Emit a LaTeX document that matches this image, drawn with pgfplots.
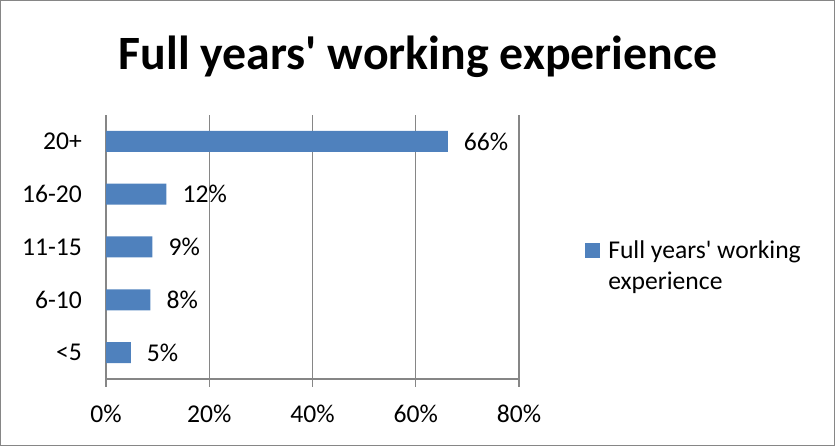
\documentclass[border=0pt]{standalone}
\usepackage{pgfplots}
\pgfplotsset{compat=1.18}
\usepackage{fontspec}
\setmainfont{Carlito}[Ligatures=TeXOff]
\definecolor{barblue}{HTML}{4F81BD}
\definecolor{axgray}{HTML}{868686}
\newcommand{\lblfont}{\fontsize{25.7}{31.4}\selectfont}
\begin{document}
\begin{tikzpicture}[x=1bp,y=1bp]
\path[use as bounding box] (0,0) rectangle (835,446);
\draw[axgray, line width=1.2bp] (0.6,0.6) rectangle (834.4,445.4);
\node[anchor=base, font=\fontsize{48}{58}\selectfont\bfseries, inner sep=0pt] at (418,376) {Full years' working experience};
\begin{axis}[
  at={(106bp,67bp)}, anchor=south west,
  scale only axis, width=413bp, height=264bp,
  xbar, bar width=21bp,
  xmin=0, xmax=80, ymin=-0.5, ymax=4.5,
  axis lines=left,
  axis line style={-, draw=axgray, line width=1.2bp},
  xtick={0,20,40,60,80},
  xticklabels={0\%,20\%,40\%,60\%,80\%},
  xmajorgrids,
  major grid style={draw=axgray, line width=1.2bp},
  x tick style={draw=axgray, line width=1.2bp},
  xtick align=outside, major tick length=8bp,
  ytick={0,1,2,3,4},
  yticklabels={<5,6-10,11-15,16-20,20+},
  y tick style={draw=none},
  extra y ticks={-0.5,0.5,1.5,2.5,3.5,4.5},
  extra y tick labels={},
  extra y tick style={tick align=outside, major tick length=8bp, tick style={draw=axgray, line width=1.2bp}},
  ticklabel style={font=\lblfont, text=black},
  yticklabel style={anchor=east, inner sep=0pt, xshift=-20bp},
  xticklabel style={anchor=north, inner sep=0pt, yshift=-18bp},
  legend style={at={(1.16,0.496)}, anchor=base west, draw=none, fill=none,
    font=\lblfont, inner sep=0pt, nodes={inner sep=0pt}, column sep=0pt},
  legend cell align=left,
]
\addplot[fill=barblue, draw=none, point meta=explicit symbolic,
  nodes near coords,
  nodes near coords style={anchor=west, inner sep=0pt, xshift=16bp, font=\lblfont, text=black},
  legend image code/.code={\fill[barblue] (0bp,-10bp) rectangle (15bp,5bp); \path (23bp,0bp);}]
coordinates {(4.8,0) [5\%] (8.6,1) [8\%] (9.0,2) [9\%] (11.7,3) [12\%] (66.2,4) [66\%]};
\addlegendentry{\begin{tabular}[t]{@{}l@{}}Full years' working\\experience\end{tabular}}
\end{axis}
\end{tikzpicture}
\end{document}
